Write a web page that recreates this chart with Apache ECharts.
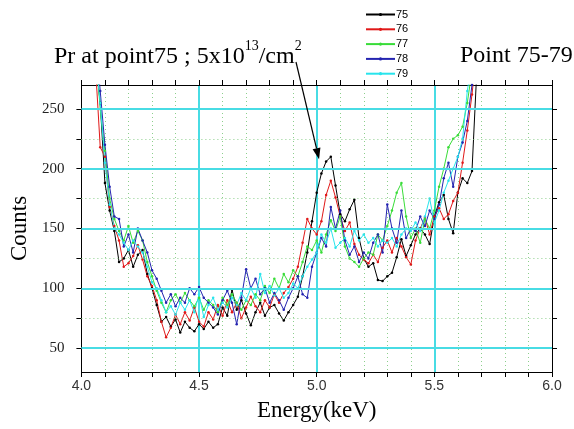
<!DOCTYPE html>
<html><head><meta charset="utf-8">
<script src="https://cdn.jsdelivr.net/npm/echarts@6/dist/echarts.min.js"></script>
<style>html,body{margin:0;padding:0;background:#fff}#c{width:574px;height:429px}</style>
</head><body><div id="c"></div>
<script>
// Energy (keV) sample positions
const energy = [4.04,4.06,4.08,4.10,4.12,4.14,4.16,4.18,4.20,4.22,4.24,4.26,4.28,4.30,4.32,4.34,4.36,4.38,4.40,4.42,
  4.44,4.46,4.48,4.50,4.52,4.54,4.56,4.58,4.60,4.62,4.64,4.66,4.68,4.70,4.72,4.74,4.76,4.78,4.80,4.82,
  4.84,4.86,4.88,4.90,4.92,4.94,4.96,4.98,5.00,5.02,5.04,5.06,5.08,5.10,5.12,5.14,5.16,5.18,5.20,5.22,
  5.24,5.26,5.28,5.30,5.32,5.34,5.36,5.38,5.40,5.42,5.44,5.46,5.48,5.50,5.52,5.54,5.56,5.58,5.60,5.62,
  5.64,5.66,5.68,5.70];
const counts75 = [340,290,255,188,165,148,122,125,132,118,128,132,112,100,86,72,76,68,74,63,
  72,67,64,70,66,72,67,70,84,77,99,82,90,79,69,80,88,77,84,86,
  79,73,80,86,93,110,130,156,180,196,206,210,186,162,156,166,174,142,125,118,
  121,107,106,110,113,126,141,127,136,145,150,145,137,160,172,178,158,146,180,192,
  188,198,280,340];
const counts76 = [330,285,218,210,168,152,140,118,121,127,136,124,110,102,90,72,59,67,78,70,
  80,73,84,72,68,80,74,86,77,90,80,88,75,84,93,85,80,90,84,95,
  88,96,101,108,118,138,158,150,145,156,178,190,176,160,148,155,137,128,124,121,
  128,122,134,140,130,142,135,126,120,140,150,159,145,160,167,158,162,173,180,205,
  232,262,300,340];
const counts77 = [340,300,250,215,175,158,148,140,152,138,148,140,122,110,98,88,80,90,95,88,
  96,90,85,92,82,90,86,80,92,86,95,88,82,90,86,95,90,102,96,108,
  100,112,105,115,110,122,135,132,140,130,145,157,148,160,135,125,122,118,125,130,
  128,145,140,152,165,180,188,160,142,150,138,158,150,165,185,200,218,225,228,235,
  255,282,320,350];
const counts78 = [360,310,265,220,185,160,158,135,145,130,150,140,130,115,108,98,88,95,85,92,
  88,100,95,101,92,88,84,78,90,98,88,70,92,116,100,108,95,100,88,96,
  90,82,92,100,110,95,92,118,130,142,135,168,150,165,140,128,135,122,130,125,
  138,145,130,170,150,138,165,142,150,148,160,152,165,158,170,192,205,185,210,222,
  240,270,305,340];
const counts79 = [330,295,255,205,170,150,145,138,132,140,135,130,118,105,100,90,80,85,78,88,
  82,90,80,95,76,86,92,82,88,84,92,86,96,90,100,92,112,96,102,94,
  100,92,96,104,100,110,118,124,130,145,138,150,134,138,142,135,148,140,145,138,
  142,135,140,138,142,135,145,150,148,155,148,160,175,155,165,180,190,200,210,225,
  265,290,320,340];
const seriesNames = ['75','76','77','78','79'];
const seriesValues = [counts75, counts76, counts77, counts78, counts79];
const seriesColors = ['#000000','#e01818','#38dc38','#2424b0','#28e4ec'];
const yLabelValues = [50,100,150,200,250];
const yTickValues = [50,75,100,125,150,175,200,225,250];
const yMajorGrid = [50,100,150,200,250];
const yMinorGrid = [75,125,175,225];
const arrowTip = [5.01, 208];

const chart = echarts.init(document.getElementById('c'), null, {renderer:'canvas'});
const cyan = '#48dce4';
const minorCol = '#8ccf8c';

const dataSeries = seriesNames.map((n, k) => ({
  name: n, type: 'line', xAxisIndex: 0, yAxisIndex: 0, z: 3,
  data: energy.map((e, i) => [e, seriesValues[k][i]]),
  symbol: 'circle', symbolSize: 2.5, showSymbol: true,
  lineStyle: {width: 1, color: seriesColors[k]},
  itemStyle: {color: seriesColors[k]},
  animation: false, clip: true
}));

const gridSeries = {
  name: 'grid', type: 'line', xAxisIndex: 0, yAxisIndex: 0, z: 1, data: [], silent: true,
  markLine: {
    silent: true, symbol: ['none','none'], label: {show: false}, animation: false,
    data: yMajorGrid.map(v => ({yAxis: v, lineStyle: {color: cyan, width: 2, type: 'solid'}}))
      .concat(yMinorGrid.map(v => ({yAxis: v, lineStyle: {color: minorCol, width: 1, type: [1,3]}})))
  }
};

const serif = 'Liberation Serif';
chart.setOption({
  animation: false,
  backgroundColor: '#fff',
  title: [
    {text: '{a|Pr at point75 ; 5x10}{s|13}{a|/cm}{s|2}', left: 49, top: 34,
     textStyle: {fontWeight: 'normal', rich: {
       a: {fontFamily: serif, fontSize: 24, fontWeight: 'normal', color: '#000', lineHeight: 30, verticalAlign: 'bottom'},
       s: {fontFamily: serif, fontSize: 14, fontWeight: 'normal', color: '#000', lineHeight: 26, verticalAlign: 'top'}
     }}},
    {text: 'Point 75-79', left: 455, top: 39,
     textStyle: {fontFamily: serif, fontSize: 24, color: '#000', fontWeight: 'normal'}}
  ],
  legend: {
    orient: 'vertical', left: 365, top: 9, padding: 0,
    itemWidth: 29, itemHeight: 4, itemGap: 3.8,
    data: seriesNames,
    textStyle: {fontFamily: 'Liberation Sans', fontSize: 11, color: '#000', lineHeight: 11, padding: [0,0,0,-4]}
  },
  grid: {left: 79, right: 22, top: 85, bottom: 57, containLabel: false},
  xAxis: [
    {type: 'value', position: 'bottom', min: 4, max: 6, interval: 0.5,
     axisLine: {show: true, onZero: false, lineStyle: {color: '#000', width: 1}},
     axisTick: {show: true, length: 5, lineStyle: {color: '#000'}},
     minorTick: {show: true, splitNumber: 5, length: 5, lineStyle: {color: '#000'}},
     axisLabel: {margin: 7, fontFamily: 'Liberation Sans', fontSize: 14, color: '#333',
       formatter: v => v.toFixed(1)},
     splitLine: {show: true, showMinLine: false, showMaxLine: false, lineStyle: {color: cyan, width: 2}},
     minorSplitLine: {show: true, lineStyle: {color: minorCol, width: 1, type: [1,3]}},
     name: 'Energy(keV)', nameLocation: 'middle', nameGap: 27,
     nameTextStyle: {fontFamily: serif, fontSize: 23, color: '#000'}},
    {type: 'value', position: 'top', min: 4, max: 6, interval: 0.5,
     axisLine: {show: true, onZero: false, lineStyle: {color: '#000', width: 1}},
     axisTick: {show: true, length: 5, lineStyle: {color: '#000'}},
     minorTick: {show: true, splitNumber: 5, length: 5, lineStyle: {color: '#000'}},
     axisLabel: {show: false}, splitLine: {show: false}}
  ],
  yAxis: [
    {type: 'value', position: 'left', min: 30, max: 270,
     axisLine: {show: true, onZero: false, lineStyle: {color: '#000', width: 1}},
     axisTick: {show: true, length: 5, customValues: yTickValues, lineStyle: {color: '#000'}},
     axisLabel: {customValues: yLabelValues, margin: 17, fontFamily: serif, fontSize: 15, color: '#222'},
     splitLine: {show: false},
     name: 'Counts', nameLocation: 'middle', nameGap: 38, nameRotate: 90,
     nameTextStyle: {fontFamily: serif, fontSize: 23, color: '#000'}},
    {type: 'value', position: 'right', min: 30, max: 270,
     axisLine: {show: true, onZero: false, lineStyle: {color: '#000', width: 1}},
     axisTick: {show: true, length: 5, customValues: yTickValues, lineStyle: {color: '#000'}},
     axisLabel: {show: false}, splitLine: {show: false}}
  ],
  series: [gridSeries].concat(dataSeries)
});

// annotation arrow from the title text to the peak
const tip = chart.convertToPixel({xAxisIndex: 0, yAxisIndex: 0}, arrowTip);
const start = [296, 62];
const dx = tip[0] - start[0], dy = tip[1] - start[1];
const L = Math.sqrt(dx*dx + dy*dy);
const ux = dx / L, uy = dy / L;
const headLen = 11, headHalf = 4;
const bx = tip[0] - ux*headLen, by = tip[1] - uy*headLen;
chart.setOption({
  graphic: [
    {type: 'line', z: 10, shape: {x1: start[0], y1: start[1], x2: bx, y2: by}, style: {stroke: '#000', lineWidth: 1.2}},
    {type: 'polygon', z: 10, shape: {points: [[tip[0], tip[1]], [bx - uy*headHalf, by + ux*headHalf], [bx + uy*headHalf, by - ux*headHalf]]},
     style: {fill: '#000'}}
  ]
});
</script></body></html>
